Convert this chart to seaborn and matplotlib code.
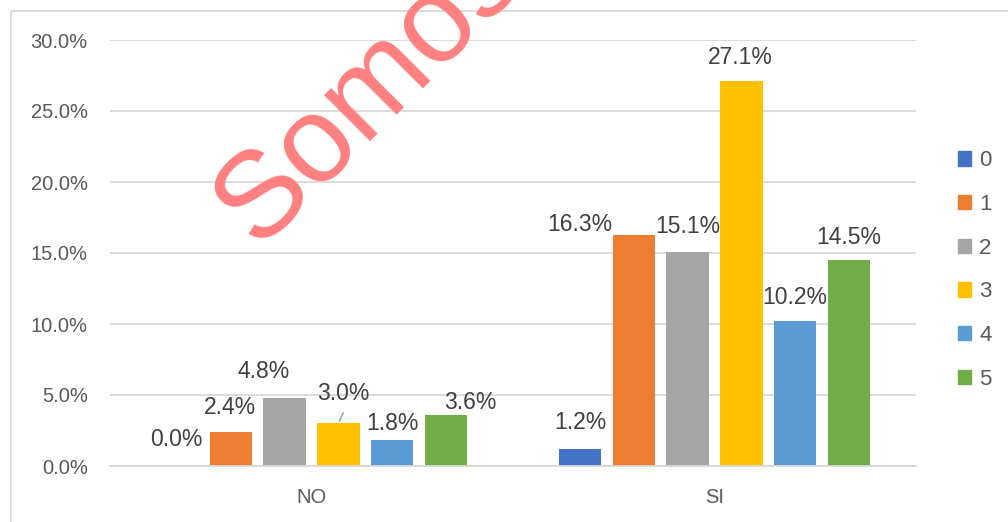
import pandas as pd
import numpy as np
import matplotlib.pyplot as plt
import matplotlib.patches as mpatches
import seaborn as sns

# data
categories = ['NO', 'SI']
series = ['0', '1', '2', '3', '4', '5']
values_no = [0.000, 0.024, 0.048, 0.030, 0.018, 0.036]
values_si = [0.012, 0.163, 0.151, 0.271, 0.102, 0.145]
y_ticks = [0.0, 0.05, 0.10, 0.15, 0.20, 0.25, 0.30]

colors = ['#4472C4', '#ED7D31', '#A5A5A5', '#FFC000', '#5B9BD5', '#70AD47']

# label offsets (pixels) from the top centre of each bar, as placed in the original
label_offsets = {
    'NO': [(-1, 26), (-1, 24), (-21, 26), (5, 30), (0, 17), (24, 12)],
    'SI': [(0, 26), (-54, 10), (0, 25), (-1, 24), (0, 24), (0, 23)],
}

df = pd.DataFrame({
    'cat': [c for c in categories for _ in series],
    'serie': series * len(categories),
    'val': values_no + values_si,
})

sns.set_theme(style='white')
plt.rcParams['font.family'] = ['Liberation Sans', 'DejaVu Sans']

fig = plt.figure(figsize=(10.08, 5.22), dpi=100)
ax = fig.add_axes([110 / 1008, 56 / 522, 806 / 1008, 426 / 522])

sns.barplot(data=df, x='cat', y='val', hue='serie', palette=colors,
            width=0.8, gap=0.21, linewidth=0, saturation=1, ax=ax, legend=False)

ax.set_xlim(-0.5, 1.5)
ax.set_ylim(0, 0.30)
ax.set_yticks(y_ticks)
ax.set_yticklabels([f'{t * 100:.1f}%' for t in y_ticks])
ax.yaxis.grid(True, color='#d9d9d9', lw=1.3)
ax.set_axisbelow(True)
for s in ['top', 'right', 'left']:
    ax.spines[s].set_visible(False)
ax.spines['bottom'].set_color('#d9d9d9')
ax.spines['bottom'].set_linewidth(1.3)
ax.tick_params(axis='y', length=0, pad=16, labelsize=14.5, labelcolor='#595959')
ax.tick_params(axis='x', length=0, pad=16, labelsize=14.5, labelcolor='#595959')
ax.set_xlabel('')
ax.set_ylabel('')

# data labels
for i, cont in enumerate(ax.containers):
    for j, bar in enumerate(cont):
        dx, dy = label_offsets[categories[j]][i]
        x = bar.get_x() + bar.get_width() / 2
        h = bar.get_height()
        ax.annotate(f'{h * 100:.1f}%', (x, h), xytext=(dx, dy), textcoords='offset pixels',
                    ha='center', va='center', fontsize=16.5, color='#404040')

# leader line for the 3.0% label
bar = ax.containers[3][0]
ax.annotate('', (bar.get_x() + bar.get_width() / 2, bar.get_height()),
            xytext=(6, 13), textcoords='offset pixels',
            arrowprops=dict(arrowstyle='-', color='#a6a6a6', lw=1.2))

# legend
handles = [mpatches.Patch(color=c, label=s) for c, s in zip(colors, series)]
leg = fig.legend(handles=handles, loc='center left', bbox_to_anchor=(958 / 1008, 1 - 270 / 522),
                 frameon=False, fontsize=16, handlelength=0.6, handleheight=0.6,
                 handletextpad=0.35, labelspacing=1.02, borderaxespad=0, borderpad=0)
for t in leg.get_texts():
    t.set_color('#595959')

# watermark
fig.text(258 / 1008, 1 - 248 / 522, 'Somos', rotation=45, rotation_mode='anchor',
         ha='left', va='baseline', fontsize=88, color='#ff8080')

# chart frame
fig.patches.append(mpatches.Rectangle((11 / 1008, -0.2), 1.2, 1 - 11 / 522 + 0.2,
                                      transform=fig.transFigure, fill=False,
                                      edgecolor='#d9d9d9', lw=1.3))

plt.savefig('out.png', dpi=100)
